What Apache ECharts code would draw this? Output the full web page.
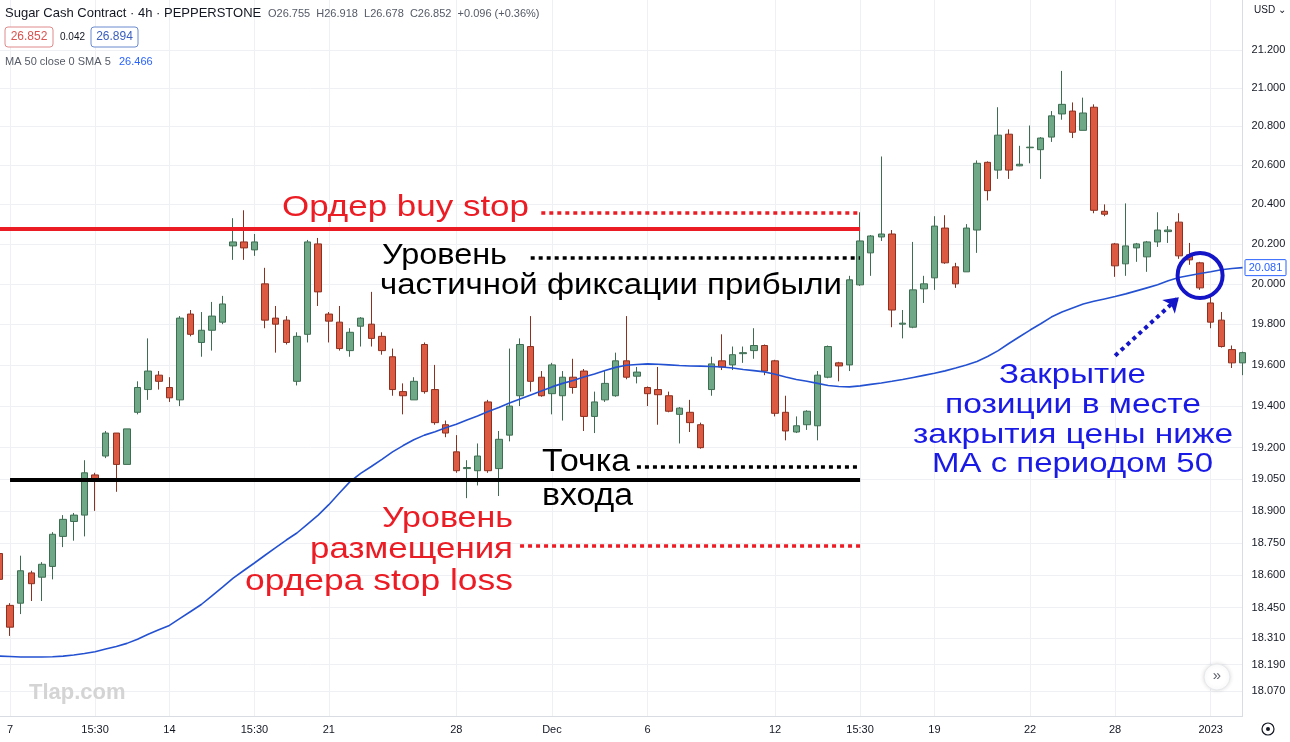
<!DOCTYPE html>
<html>
<head>
<meta charset="utf-8">
<script src="https://cdn.jsdelivr.net/npm/echarts@6/dist/echarts.min.js"></script>
<style>
html, body { margin: 0; padding: 0; background: #fff; }
#chart { width: 1290px; height: 742px; }
</style>
</head>
<body>
<div id="chart"></div>
<script>
// 4h candles, Sugar Cash Contract
const opens = [18.70, 18.46, 18.47, 18.61, 18.59, 18.64, 18.78, 18.85, 18.88, 19.07,
  19.16, 19.27, 19.12, 19.37, 19.48, 19.55, 19.49, 19.43, 19.85, 19.71,
  19.77, 19.81, 20.19, 20.21, 20.17, 20.00, 19.83, 19.82, 19.52, 19.75,
  20.20, 19.85, 19.81, 19.67, 19.79, 19.80, 19.74, 19.64, 19.47, 19.43,
  19.70, 19.48, 19.31, 19.18, 19.10, 19.09, 19.42, 19.10, 19.26, 19.45,
  19.69, 19.54, 19.46, 19.45, 19.54, 19.57, 19.35, 19.43, 19.45, 19.62,
  19.545, 19.49, 19.48, 19.45, 19.36, 19.37, 19.31, 19.48, 19.62, 19.60,
  19.655, 19.67, 19.695, 19.62, 19.37, 19.275, 19.31, 19.305, 19.54, 19.61,
  19.60, 19.995, 20.155, 20.235, 20.25, 19.80, 19.785, 19.975, 20.03, 20.28,
  20.085, 20.06, 20.27, 20.615, 20.575, 20.76, 20.597, 20.69, 20.68, 20.745,
  20.865, 20.88, 20.78, 20.90, 20.365, 20.20, 20.10, 20.18, 20.135, 20.21,
  20.262, 20.31, 20.145, 20.105, 19.905, 19.82, 19.675, 19.61];
const closes = [18.58, 18.36, 18.62, 18.56, 18.65, 18.79, 18.86, 18.88, 19.08, 19.05,
  19.27, 19.12, 19.29, 19.49, 19.57, 19.52, 19.44, 19.83, 19.75, 19.77,
  19.84, 19.90, 20.21, 20.18, 20.21, 19.82, 19.80, 19.71, 19.74, 20.21,
  19.96, 19.815, 19.68, 19.76, 19.83, 19.73, 19.67, 19.48, 19.45, 19.52,
  19.47, 19.32, 19.27, 19.09, 19.105, 19.16, 19.09, 19.24, 19.40, 19.70,
  19.52, 19.45, 19.60, 19.54, 19.49, 19.35, 19.42, 19.51, 19.62, 19.54,
  19.565, 19.46, 19.455, 19.375, 19.39, 19.32, 19.20, 19.605, 19.59, 19.65,
  19.66, 19.695, 19.57, 19.365, 19.28, 19.305, 19.375, 19.55, 19.69, 19.595,
  20.02, 20.215, 20.24, 20.25, 19.87, 19.805, 19.97, 20.00, 20.29, 20.105,
  20.00, 20.28, 20.61, 20.47, 20.755, 20.575, 20.605, 20.693, 20.74, 20.855,
  20.915, 20.77, 20.87, 20.37, 20.35, 20.09, 20.19, 20.20, 20.21, 20.27,
  20.27, 20.14, 20.12, 19.98, 19.81, 19.69, 19.61, 19.66];
const lows = [18.56, 18.32, 18.42, 18.48, 18.48, 18.58, 18.73, 18.76, 18.78, 18.90,
  19.15, 18.99, 19.12, 19.36, 19.43, 19.48, 19.42, 19.40, 19.74, 19.64,
  19.67, 19.80, 20.12, 20.12, 20.14, 19.78, 19.66, 19.70, 19.50, 19.71,
  19.89, 19.71, 19.67, 19.64, 19.69, 19.69, 19.65, 19.45, 19.36, 19.43,
  19.46, 19.31, 19.25, 19.08, 18.96, 19.02, 19.08, 18.97, 19.23, 19.40,
  19.47, 19.445, 19.36, 19.33, 19.46, 19.28, 19.27, 19.42, 19.445, 19.53,
  19.51, 19.40, 19.31, 19.37, 19.22, 19.275, 19.195, 19.45, 19.575, 19.575,
  19.61, 19.63, 19.55, 19.35, 19.235, 19.27, 19.285, 19.235, 19.535, 19.52,
  19.57, 19.99, 20.04, 20.215, 19.785, 19.73, 19.78, 19.905, 19.97, 20.10,
  19.98, 20.06, 20.155, 20.42, 20.53, 20.53, 20.595, 20.61, 20.53, 20.72,
  20.835, 20.74, 20.78, 20.355, 20.34, 20.035, 20.04, 20.11, 20.06, 20.185,
  20.205, 20.125, 20.095, 19.97, 19.78, 19.685, 19.585, 19.55];
const highs = [18.72, 18.47, 18.69, 18.62, 18.66, 18.80, 18.88, 18.89, 19.14, 19.08,
  19.28, 19.27, 19.29, 19.52, 19.73, 19.57, 19.54, 19.84, 19.87, 19.86,
  19.91, 19.94, 20.33, 20.37, 20.25, 20.08, 19.89, 19.84, 19.76, 20.22,
  20.23, 19.86, 19.89, 19.78, 19.835, 19.96, 19.76, 19.68, 19.51, 19.54,
  19.71, 19.60, 19.33, 19.26, 19.14, 19.22, 19.43, 19.28, 19.68, 19.73,
  19.84, 19.57, 19.61, 19.57, 19.63, 19.58, 19.47, 19.57, 19.66, 19.84,
  19.59, 19.495, 19.59, 19.47, 19.395, 19.43, 19.32, 19.64, 19.75, 19.69,
  19.69, 19.78, 19.70, 19.625, 19.45, 19.35, 19.38, 19.57, 19.695, 19.615,
  20.04, 20.36, 20.245, 20.645, 20.27, 19.87, 20.21, 20.04, 20.34, 20.345,
  20.105, 20.30, 20.625, 20.62, 20.90, 20.785, 20.70, 20.805, 20.745, 20.88,
  21.09, 20.925, 20.95, 20.915, 20.40, 20.205, 20.405, 20.205, 20.215, 20.36,
  20.29, 20.355, 20.205, 20.11, 19.935, 19.86, 19.695, 19.665];
// MA 50 close, as drawn
const ma50 = [18.228, 18.226, 18.224, 18.224, 18.224, 18.225, 18.228, 18.233, 18.240, 18.248,
  18.260, 18.272, 18.286, 18.305, 18.328, 18.348, 18.368, 18.400, 18.432, 18.464,
  18.504, 18.544, 18.586, 18.621, 18.656, 18.692, 18.728, 18.763, 18.796, 18.838,
  18.880, 18.929, 18.984, 19.038, 19.077, 19.110, 19.144, 19.180, 19.210, 19.238,
  19.260, 19.276, 19.295, 19.312, 19.333, 19.352, 19.374, 19.393, 19.415, 19.434,
  19.454, 19.473, 19.493, 19.510, 19.524, 19.541, 19.556, 19.573, 19.588, 19.598,
  19.602, 19.605, 19.603, 19.600, 19.597, 19.595, 19.594, 19.592, 19.590, 19.585,
  19.578, 19.572, 19.566, 19.554, 19.541, 19.529, 19.520, 19.510, 19.500, 19.495,
  19.493, 19.498, 19.505, 19.512, 19.520, 19.529, 19.539, 19.549, 19.559, 19.571,
  19.585, 19.600, 19.617, 19.641, 19.670, 19.705, 19.738, 19.771, 19.802, 19.835,
  19.860, 19.880, 19.900, 19.913, 19.925, 19.937, 19.950, 19.965, 19.980, 19.995,
  20.015, 20.032, 20.042, 20.052, 20.060, 20.070, 20.077, 20.081];

const tickIdx = [1, 9, 16, 24, 31, 43, 52, 61, 73, 81, 88, 97, 105, 114];
const tickText = ['7', '15:30', '14', '15:30', '21', '28', 'Dec', '6', '12', '15:30', '19', '22', '28', '2023'];
const priceTicks = [21.2, 21.0, 20.8, 20.6, 20.4, 20.2, 20.0, 19.8, 19.6, 19.4, 19.2,
  19.05, 18.9, 18.75, 18.6, 18.45, 18.31, 18.19, 18.07];

// levels drawn on the chart
const buyStop = 20.275, buyStopNote = 20.355;
const takeProfit = 20.13;
const entry = 19.045, entryNote = 19.11;
const stopLossNote = 18.735;

const categories = opens.map((o, i) => 'k' + i);
const candles = opens.map((o, i) => [o, closes[i], lows[i], highs[i]]);

const FONT = 'Liberation Sans';
let myChart = echarts.init(document.getElementById('chart'), null, { renderer: 'canvas' });

function hLine(y, x0, x1, color, width, dashed) {
  return [
    { coord: [x0, y], lineStyle: { color: color, width: width, type: dashed ? [4, 4] : 'solid' } },
    { coord: [x1, y] }
  ];
}

myChart.setOption({
  animation: false,
  backgroundColor: '#fff',
  grid: { left: -0.6, right: 47.4, top: 0, bottom: 26, outerBoundsMode: 'none' },
  xAxis: {
    type: 'category',
    data: categories,
    boundaryGap: false,
    axisLine: { show: true, lineStyle: { color: '#d9dce3' } },
    axisTick: { show: false },
    axisLabel: {
      interval: (i) => tickIdx.includes(i),
      formatter: (v, i) => tickText[tickIdx.indexOf(i)] || '',
      color: '#131722', fontSize: 11, fontFamily: FONT, margin: 8
    },
    splitLine: { show: true, interval: (i) => tickIdx.includes(i), lineStyle: { color: '#eef0f4' } }
  },
  yAxis: {
    type: 'log',
    logBase: 10,
    position: 'right',
    min: 17.958,
    max: 21.466,
    axisLine: { show: true, lineStyle: { color: '#d9dce3' } },
    axisTick: { show: false, customValues: priceTicks },
    axisLabel: {
      customValues: priceTicks,
      formatter: (v) => Number(v).toFixed(3),
      color: '#131722', fontSize: 11, fontFamily: FONT, margin: 9
    },
    splitLine: { show: true, lineStyle: { color: '#eef0f4' } }
  },
  series: [
    {
      name: 'Sugar',
      type: 'candlestick',
      data: candles,
      barWidth: 7,
      clip: false,
      itemStyle: {
        color: '#6fa886',
        color0: '#dc5a41',
        borderColor: '#3d6e52',
        borderColor0: '#8c3020',
        borderWidth: 1
      },
      markLine: {
        silent: true,
        symbol: ['none', 'none'],
        label: { show: false },
        data: [
          hLine(buyStop, 0.24, 81, '#ec1c24', 4, false),
          hLine(entry, 0.81, 81, '#000', 4, false),
          hLine(buyStopNote, 51, 81, '#ec1c24', 3.5, true),
          hLine(takeProfit, 50.1, 81, '#000', 3.5, true),
          hLine(entryNote, 59.8, 81, '#000', 3.5, true),
          hLine(stopLossNote, 48.9, 81, '#ec1c24', 3.5, true)
        ]
      }
    },
    {
      name: 'MA 50',
      type: 'line',
      data: ma50,
      showSymbol: false,
      lineStyle: { color: '#2351d1', width: 1.6 },
      z: 3,
      markPoint: {
        silent: true,
        symbol: 'circle',
        symbolSize: 45,
        label: { show: false },
        itemStyle: { color: 'rgba(0,0,0,0)', borderColor: '#1515c8', borderWidth: 4 },
        data: [{ coord: [113.3, 20.042] }]
      },
      markLine: {
        silent: true,
        symbol: ['none', 'arrow'],
        symbolSize: [14, 14],
        label: { show: false },
        lineStyle: { color: '#1515c8', width: 4, type: [4, 4] },
        data: [[{ coord: [105.3, 19.645] }, { coord: [111.0, 19.933] }]]
      }
    }
  ]
});

// text notes and header
const ctx = document.createElement('canvas').getContext('2d');
function note(t, x, base, w, color, size) {
  ctx.font = size + 'px "' + FONT + '"';
  const natural = ctx.measureText(t).width;
  return {
    type: 'text', x: x, y: base - 0.33 * size, scaleX: w / natural, z: 100, silent: true,
    style: { text: t, fill: color, font: size + 'px "' + FONT + '"', align: 'left', verticalAlign: 'middle' }
  };
}
function label(t, x, y, color, size, weight, align) {
  return {
    type: 'text', x: x, y: y, z: 100, silent: true,
    style: { text: t, fill: color, font: (weight || 'normal') + ' ' + size + 'px "' + FONT + '"', align: align || 'left', verticalAlign: 'middle' }
  };
}
const red = '#ec1c24', blue = '#1a1ae6';
const maY = myChart.convertToPixel({ yAxisIndex: 0 }, ma50[ma50.length - 1]);

myChart.setOption({
  graphic: [
    note('Ордер buy stop', 282, 218, 247, red, 30),
    note('Уровень', 382, 266, 125, '#000', 30),
    note('частичной фиксации прибыли', 380, 296, 462, '#000', 30),
    note('Точка', 542, 473, 88, '#000', 31),
    note('входа', 542, 507, 91, '#000', 31),
    note('Уровень', 382, 529, 131, red, 30),
    note('размещения', 310, 560, 203, red, 30),
    note('ордера stop loss', 245, 592, 268, red, 30),
    note('Закрытие', 999, 385, 147, blue, 28),
    note('позиции в месте', 945, 415, 256, blue, 28),
    note('закрытия цены ниже', 913, 445, 320, blue, 28),
    note('MA с периодом 50', 932, 474, 281, blue, 28),

    label('Sugar Cash Contract · 4h · PEPPERSTONE', 5, 13, '#131722', 13),
    label('O26.755  H26.918  L26.678  C26.852  +0.096 (+0.36%)', 268, 14, '#555a66', 11),
    { type: 'rect', shape: { x: 5, y: 27, width: 48, height: 20, r: 3 }, style: { fill: '#fff', stroke: '#e08a8a', lineWidth: 1 }, z: 100 },
    label('26.852', 29, 37, '#d9534f', 12, 'normal', 'center'),
    label('0.042', 60, 37, '#131722', 10),
    { type: 'rect', shape: { x: 91, y: 27, width: 47, height: 20, r: 3 }, style: { fill: '#fff', stroke: '#6b8ad0', lineWidth: 1 }, z: 100 },
    label('26.894', 114.5, 37, '#3a5fbf', 12, 'normal', 'center'),
    label('MA 50 close 0 SMA 5', 5, 62, '#555a66', 11),
    label('26.466', 119, 62, '#2962ff', 11),
    label('USD ⌄', 1254, 10, '#131722', 10),

    { type: 'rect', shape: { x: 1245, y: maY - 8, width: 41, height: 16, r: 1 }, style: { fill: '#fff', stroke: '#2962ff', lineWidth: 1 }, z: 100 },
    label('20.081', 1265.5, maY, '#2962ff', 11, 'normal', 'center'),

    label('Tlap.com', 29, 693, '#d4d4d4', 22, 'bold'),
    { type: 'circle', shape: { cx: 1217, cy: 677, r: 13 }, style: { fill: '#fff', stroke: '#e6e8ec', lineWidth: 1, shadowBlur: 4, shadowColor: 'rgba(0,0,0,0.12)' }, z: 100 },
    label('»', 1217, 676, '#5d606b', 15, 'normal', 'center'),
    { type: 'circle', shape: { cx: 1268, cy: 729, r: 6 }, style: { fill: 'none', stroke: '#131722', lineWidth: 1.2 }, z: 100 },
    { type: 'circle', shape: { cx: 1268, cy: 729, r: 2 }, style: { fill: '#131722' }, z: 100 }
  ]
});
</script>
</body>
</html>
